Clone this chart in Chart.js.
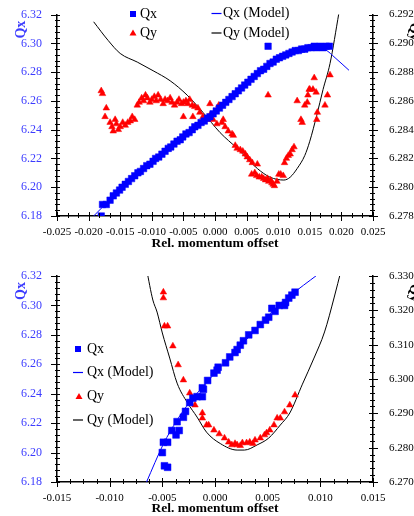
<!DOCTYPE html>
<html>
<head>
<meta charset="utf-8">
<script src="https://cdn.jsdelivr.net/npm/chart.js@4.4.0/dist/chart.umd.min.js"></script>
<style>
body { margin: 0; background: #fff; }
.box { position: relative; width: 414px; height: 258px; }
</style>
</head>
<body>
<div class="box"><canvas id="topChart"></canvas></div>
<div class="box"><canvas id="bottomChart"></canvas></div>
<script>
// ---- top panel data ----
const topQxOffset = [-0.0180,-0.0178,-0.0172,-0.0166,-0.0161,-0.0156,-0.0151,-0.0147,-0.0142,-0.0137,-0.0132,-0.0127,-0.0122,-0.0118,-0.0113,-0.0108,-0.0103,-0.0098,-0.0094,-0.0089,-0.0084,-0.0079,-0.0074,-0.0070,-0.0065,-0.0060,-0.0055,-0.0051,-0.0046,-0.0041,-0.0036,-0.0032,-0.0027,-0.0022,-0.0017,-0.0012,-0.0008,-0.0003,0.0002,0.0007,0.0012,0.0017,0.0022,0.0027,0.0032,0.0037,0.0042,0.0047,0.0052,0.0057,0.0062,0.0067,0.0072,0.0077,0.0082,0.0087,0.0092,0.0097,0.0102,0.0107,0.0112,0.0117,0.0122,0.0127,0.0132,0.0137,0.0142,0.0147,0.0152,0.0157,0.0161,0.0166,0.0171,0.0176,0.0181,0.0084];
const topQx = [6.180,6.188,6.188,6.191,6.194,6.196,6.198,6.200,6.202,6.204,6.206,6.208,6.210,6.211,6.213,6.215,6.216,6.218,6.220,6.221,6.223,6.225,6.227,6.228,6.230,6.232,6.233,6.235,6.237,6.238,6.240,6.242,6.243,6.245,6.246,6.248,6.249,6.251,6.253,6.255,6.257,6.259,6.261,6.263,6.265,6.267,6.269,6.271,6.273,6.275,6.277,6.279,6.281,6.282,6.284,6.286,6.287,6.289,6.290,6.291,6.292,6.293,6.294,6.295,6.295,6.296,6.296,6.297,6.297,6.298,6.297,6.298,6.297,6.298,6.298,6.298];

const topQyOffset = [-0.0180,-0.0178,-0.0172,-0.0174,-0.0166,-0.0163,-0.0161,-0.0158,-0.0156,-0.0153,-0.0150,-0.0146,-0.0142,-0.0138,-0.0134,-0.0131,-0.0127,-0.0123,-0.0120,-0.0116,-0.0113,-0.0110,-0.0107,-0.0103,-0.0100,-0.0096,-0.0093,-0.0090,-0.0086,-0.0082,-0.0079,-0.0075,-0.0071,-0.0068,-0.0064,-0.0060,-0.0057,-0.0053,-0.0050,-0.0046,-0.0043,-0.0040,-0.0036,-0.0032,-0.0050,-0.0027,-0.0035,-0.0024,-0.0019,-0.0013,-0.0008,-0.0003,0.0003,-0.0008,0.0006,0.0011,0.0013,0.0016,0.0021,0.0027,0.0029,0.0032,0.0035,0.0040,0.0044,0.0048,0.0051,0.0055,0.0059,0.0067,0.0058,0.0063,0.0066,0.0070,0.0074,0.0077,0.0080,0.0083,0.0085,0.0088,0.0090,0.0092,0.0094,0.0098,0.0101,0.0104,0.0108,0.0110,0.0113,0.0116,0.0119,0.0122,0.0125,0.0084,0.0130,0.0138,0.0136,0.0142,0.0146,0.0147,0.0149,0.0150,0.0155,0.0157,0.0160,0.0162,0.0161,0.0174,0.0178,0.0182];
const topQy = [6.2867,6.2865,6.2855,6.2849,6.2845,6.2842,6.2839,6.2847,6.2844,6.2840,6.2842,6.2845,6.2843,6.2845,6.2846,6.2849,6.2847,6.2857,6.2859,6.2862,6.2860,6.2864,6.2862,6.2859,6.2861,6.2863,6.2860,6.2864,6.2861,6.2858,6.2861,6.2860,6.2862,6.2859,6.2857,6.2859,6.2861,6.2858,6.2859,6.2860,6.2858,6.2861,6.2857,6.2856,6.2849,6.2855,6.2849,6.2852,6.2849,6.2847,6.2850,6.2847,6.2844,6.2858,6.2857,6.2845,6.2847,6.2842,6.2839,6.2837,6.2836,6.2829,6.2827,6.2826,6.2825,6.2823,6.2821,6.2819,6.2817,6.2816,6.2809,6.2810,6.2808,6.2807,6.2807,6.2806,6.2805,6.2806,6.2804,6.2805,6.2803,6.2802,6.2801,6.2804,6.2809,6.2809,6.2808,6.2817,6.2820,6.2822,6.2823,6.2826,6.2828,6.2864,6.2860,6.2845,6.2847,6.2857,6.2859,6.2864,6.2868,6.2868,6.2868,6.2876,6.2866,6.2852,6.2847,6.2857,6.2864,6.2878];

const topQxModelOffset = [-0.0192,-0.0160,-0.0120,-0.0080,-0.0040,0.0000,0.0040,0.0080,0.0120,0.0140,0.0160,0.0175,0.0190,0.0212];
const topQxModel = [6.180,6.194,6.210,6.225,6.239,6.252,6.268,6.283,6.293,6.296,6.297,6.2955,6.290,6.2813];

const topQyModelOffset = [-0.0192,-0.0169,-0.0150,-0.0123,-0.0098,-0.0071,-0.0044,-0.0019,0.0008,0.0035,0.0067,0.0087,0.0109,0.0119,0.0130,0.0142,0.0150,0.0161,0.0171,0.0182,0.0196];
const topQyModel = [6.2915,6.2902,6.2893,6.2887,6.2881,6.2874,6.2864,6.2852,6.2838,6.2827,6.2813,6.2807,6.2805,6.2807,6.2813,6.2822,6.2832,6.2850,6.2868,6.2886,6.2921];

const topXTicks = [-0.025,-0.020,-0.015,-0.010,-0.005,0,0.005,0.010,0.015,0.020,0.025];
const topQxTicks = [6.18,6.20,6.22,6.24,6.26,6.28,6.30,6.32];
const topQyTicks = [6.278,6.280,6.282,6.284,6.286,6.288,6.290,6.292];

// ---- bottom panel data ----
const botQxOffset = [-0.0050,-0.0048,-0.0045,-0.0049,-0.0045,-0.0041,-0.0037,-0.0034,-0.0036,-0.0030,-0.0028,-0.0024,-0.0021,-0.0017,-0.0012,-0.0011,-0.0012,-0.0007,-0.0001,0.0002,0.0003,0.0010,0.0014,0.0019,0.0021,0.0024,0.0027,0.0032,0.0038,0.0043,0.0048,0.0051,0.0054,0.0057,0.0061,0.0066,0.0067,0.0070,0.0073,0.0076];
const botQx = [6.200,6.191,6.190,6.207,6.207,6.215,6.212,6.215,6.221,6.224,6.228,6.234,6.237,6.238,6.238,6.243,6.244,6.249,6.254,6.256,6.258,6.261,6.265,6.268,6.270,6.273,6.276,6.280,6.283,6.287,6.290,6.292,6.298,6.296,6.300,6.300,6.302,6.305,6.307,6.309];

const botQyOffset = [-0.0049,-0.0049,-0.0048,-0.0045,-0.0040,-0.0035,-0.0030,-0.0024,-0.0019,-0.0012,-0.0012,-0.0008,-0.0006,-0.0001,0.0004,0.0009,0.0013,0.0016,0.0019,0.0021,0.0024,0.0026,0.0030,0.0033,0.0036,0.0038,0.0043,0.0047,0.0049,0.0052,0.0056,0.0059,0.0062,0.0066,0.0071,0.0076];
const botQy = [6.3253,6.3236,6.3154,6.3154,6.3096,6.3041,6.2997,6.2959,6.2924,6.2901,6.2886,6.2866,6.2866,6.2851,6.2840,6.2828,6.2816,6.2808,6.2812,6.2808,6.2806,6.2814,6.2814,6.2816,6.2812,6.2822,6.2828,6.2837,6.2843,6.2851,6.2866,6.2886,6.2886,6.2904,6.2924,6.2953];

const botQxModelOffset = [-0.0065,-0.0049,-0.0036,-0.0024,-0.0011,0.0000,0.0014,0.0033,0.0052,0.0071,0.0097];
const botQxModel = [6.1800,6.2058,6.2221,6.2343,6.2452,6.2541,6.2649,6.2792,6.2942,6.3064,6.3207];

const botQyModelOffset = [-0.0065,-0.0059,-0.0055,-0.0050,-0.0043,-0.0036,-0.0026,-0.0017,-0.0008,0.0005,0.0021,0.0028,0.0040,0.0051,0.0062,0.0071,0.0083,0.0094,0.0104,0.0113,0.0120];
const botQyModel = [6.3320,6.3230,6.3195,6.3134,6.3061,6.2988,6.2930,6.2889,6.2845,6.2812,6.2793,6.2793,6.2808,6.2828,6.2866,6.2901,6.2985,6.3061,6.3137,6.3236,6.3320];

const botXTicks = [-0.015,-0.010,-0.005,0,0.005,0.010,0.015];
const botQxTicks = [6.18,6.20,6.22,6.24,6.26,6.28,6.30,6.32];
const botQyTicks = [6.270,6.280,6.290,6.300,6.310,6.320,6.330];

const serif = "'Liberation Serif', 'Times New Roman', serif";
const blueText = '#3c3cff';

const pts = (xs, ys) => xs.map((x, i) => ({x: x, y: ys[i]}));

// major + minor tick marks on the three axes
const tickMarks = {
  id: 'tickMarks',
  afterDraw(chart, args, opts) {
    const ctx = chart.ctx;
    ctx.save();
    ctx.strokeStyle = '#000';
    ctx.lineWidth = 1;
    ctx.beginPath();
    ['x', 'y', 'y1'].forEach(id => {
      const s = chart.scales[id];
      const vals = s.ticks.map(t => t.value);
      const n = opts.minor[id];
      const step = (vals[1] - vals[0]) / (n + 1);
      vals.forEach((v, i) => {
        for (let k = 0; k <= n; k++) {
          if (k > 0 && i === vals.length - 1) break;
          const p = Math.round(s.getPixelForValue(v + k * step)) + 0.5;
          const major = k === 0;
          if (id === 'x') {
            ctx.moveTo(p, s.top - (major ? 4 : 3));
            ctx.lineTo(p, s.top + (major ? 5 : 2));
          } else if (id === 'y') {
            ctx.moveTo(s.right - (major ? 6 : 2), p);
            ctx.lineTo(s.right + 3, p);
          } else {
            ctx.moveTo(s.left - (major ? 4 : 3), p);
            ctx.lineTo(s.left + (major ? 5 : 2), p);
          }
        }
      });
    });
    ctx.stroke();
    ctx.restore();
  }
};

// rotated Qx / Qy titles near the top of each y axis
const axisTitles = {
  id: 'axisTitles',
  afterDraw(chart, args, opts) {
    const ctx = chart.ctx;
    const top = chart.chartArea.top;
    ctx.save();
    ctx.font = 'bold 14px ' + serif;
    ctx.textAlign = 'center';
    ctx.textBaseline = 'middle';
    ctx.save();
    ctx.translate(21.5, top + 15);
    ctx.rotate(-Math.PI / 2);
    ctx.fillStyle = blueText;
    ctx.fillText('Qx', 0, 0);
    ctx.restore();
    ctx.translate(413.5, top + 17);
    ctx.rotate(Math.PI / 2);
    ctx.fillStyle = '#000';
    ctx.fillText('Qy', 0, 0);
    ctx.restore();
  }
};

// legend drawn inside the plot
const legendBox = {
  id: 'legendBox',
  afterDraw(chart, args, opts) {
    const ctx = chart.ctx;
    ctx.save();
    ctx.font = '14px ' + serif;
    ctx.textBaseline = 'middle';
    opts.items.forEach(it => {
      const ds = chart.data.datasets[it.ds];
      const c = ds.showLine ? ds.borderColor : ds.backgroundColor;
      ctx.fillStyle = c;
      ctx.strokeStyle = c;
      if (ds.showLine) {
        ctx.lineWidth = 1.2;
        ctx.beginPath();
        ctx.moveTo(it.x - 5, it.y);
        ctx.lineTo(it.x + 5, it.y);
        ctx.stroke();
      } else if (ds.pointStyle === 'rect') {
        ctx.fillRect(it.x - 3, it.y - 3, 6, 6);
      } else {
        ctx.beginPath();
        ctx.moveTo(it.x, it.y - 3.5);
        ctx.lineTo(it.x + 3.5, it.y + 2.5);
        ctx.lineTo(it.x - 3.5, it.y + 2.5);
        ctx.closePath();
        ctx.fill();
      }
      ctx.fillStyle = '#000';
      ctx.fillText(ds.label, it.tx, it.y);
    });
    ctx.restore();
  }
};

function buildChart(canvasId, p) {
  const fixTicks = arr => scale => { scale.ticks = arr.map(v => ({value: v})); };
  return new Chart(document.getElementById(canvasId), {
    type: 'scatter',
    data: {
      datasets: [{
        label: 'Qx',
        data: pts(p.qxOff, p.qx),
        yAxisID: 'y',
        pointStyle: 'rect',
        pointRadius: p.sq,
        pointBorderWidth: 0.5,
        backgroundColor: '#0000ff',
        borderColor: '#0000ff'
      }, {
        label: 'Qy',
        data: pts(p.qyOff, p.qy),
        yAxisID: 'y1',
        pointStyle: 'triangle',
        pointRadius: 3.8,
        pointBorderWidth: 0.5,
        backgroundColor: '#ff0000',
        borderColor: '#ff0000'
      }, {
        label: 'Qx (Model)',
        data: pts(p.qxmOff, p.qxm),
        yAxisID: 'y',
        showLine: true,
        pointRadius: 0,
        borderWidth: 1,
        borderColor: '#0000ff',
        cubicInterpolationMode: 'monotone'
      }, {
        label: 'Qy (Model)',
        data: pts(p.qymOff, p.qym),
        yAxisID: 'y1',
        showLine: true,
        pointRadius: 0,
        borderWidth: 1,
        borderColor: '#000000',
        cubicInterpolationMode: 'monotone'
      }]
    },
    options: {
      responsive: true,
      maintainAspectRatio: false,
      animation: false,
      events: [],
      layout: { padding: { top: p.padTop, left: 0, right: 0, bottom: 0 } },
      plugins: {
        legend: { display: false },
        tooltip: { enabled: false },
        tickMarks: { minor: p.minor },
        legendBox: { items: p.legend }
      },
      scales: {
        x: {
          type: 'linear',
          min: p.xTicks[0],
          max: p.xTicks[p.xTicks.length - 1],
          afterBuildTicks: fixTicks(p.xTicks),
          afterFit: s => { s.height = p.xHeight; },
          grid: { display: false },
          border: { display: true, color: '#000', width: 1.5 },
          ticks: {
            autoSkip: false, maxRotation: 0, padding: 2, color: '#000',
            font: { family: serif, size: 11 },
            callback: v => v.toFixed(3)
          },
          title: {
            display: true, text: 'Rel. momentum offset', color: '#000',
            font: { family: serif, size: 13.5, weight: 'bold' },
            padding: { top: 0, bottom: p.titlePad }
          }
        },
        y: {
          type: 'linear',
          position: 'left',
          min: p.qxTicks[0],
          max: p.qxTicks[p.qxTicks.length - 1],
          afterBuildTicks: fixTicks(p.qxTicks),
          afterFit: s => { s.width = 57; },
          grid: { display: false },
          border: { display: true, color: '#000', width: 1.5 },
          ticks: {
            padding: 7, color: blueText,
            font: { family: serif, size: 12 },
            callback: v => v.toFixed(2)
          }
        },
        y1: {
          type: 'linear',
          position: 'right',
          min: p.qyTicks[0],
          max: p.qyTicks[p.qyTicks.length - 1],
          afterBuildTicks: fixTicks(p.qyTicks),
          afterFit: s => { s.width = 41; },
          grid: { display: false },
          border: { display: true, color: '#000', width: 1.5 },
          ticks: {
            padding: 8, color: '#000',
            font: { family: serif, size: 11 },
            callback: v => v.toFixed(3)
          }
        }
      }
    },
    plugins: [tickMarks, axisTitles, legendBox]
  });
}

buildChart('topChart', {
  qxOff: topQxOffset, qx: topQx, qyOff: topQyOffset, qy: topQy,
  qxmOff: topQxModelOffset, qxm: topQxModel, qymOff: topQyModelOffset, qym: topQyModel,
  xTicks: topXTicks, qxTicks: topQxTicks, qyTicks: topQyTicks,
  sq: 4.6, padTop: 10, xHeight: 42, titlePad: 6,
  minor: { x: 2, y: 4, y1: 4 },
  legend: [
    { ds: 0, x: 133, y: 14, tx: 140 },
    { ds: 1, x: 133, y: 33, tx: 140 },
    { ds: 2, x: 216.5, y: 13.5, tx: 223 },
    { ds: 3, x: 216.5, y: 33, tx: 223 }
  ]
});

buildChart('bottomChart', {
  qxOff: botQxOffset, qx: botQx, qyOff: botQyOffset, qy: botQy,
  qxmOff: botQxModelOffset, qxm: botQxModel, qymOff: botQyModelOffset, qym: botQyModel,
  xTicks: botXTicks, qxTicks: botQxTicks, qyTicks: botQyTicks,
  sq: 4.8, padTop: 18, xHeight: 34, titlePad: -1,
  minor: { x: 3, y: 4, y1: 4 },
  legend: [
    { ds: 0, x: 78, y: 91, tx: 87 },
    { ds: 2, x: 78, y: 114.5, tx: 87 },
    { ds: 1, x: 79, y: 138.5, tx: 87 },
    { ds: 3, x: 78, y: 162, tx: 87 }
  ]
});
</script>
</body>
</html>
